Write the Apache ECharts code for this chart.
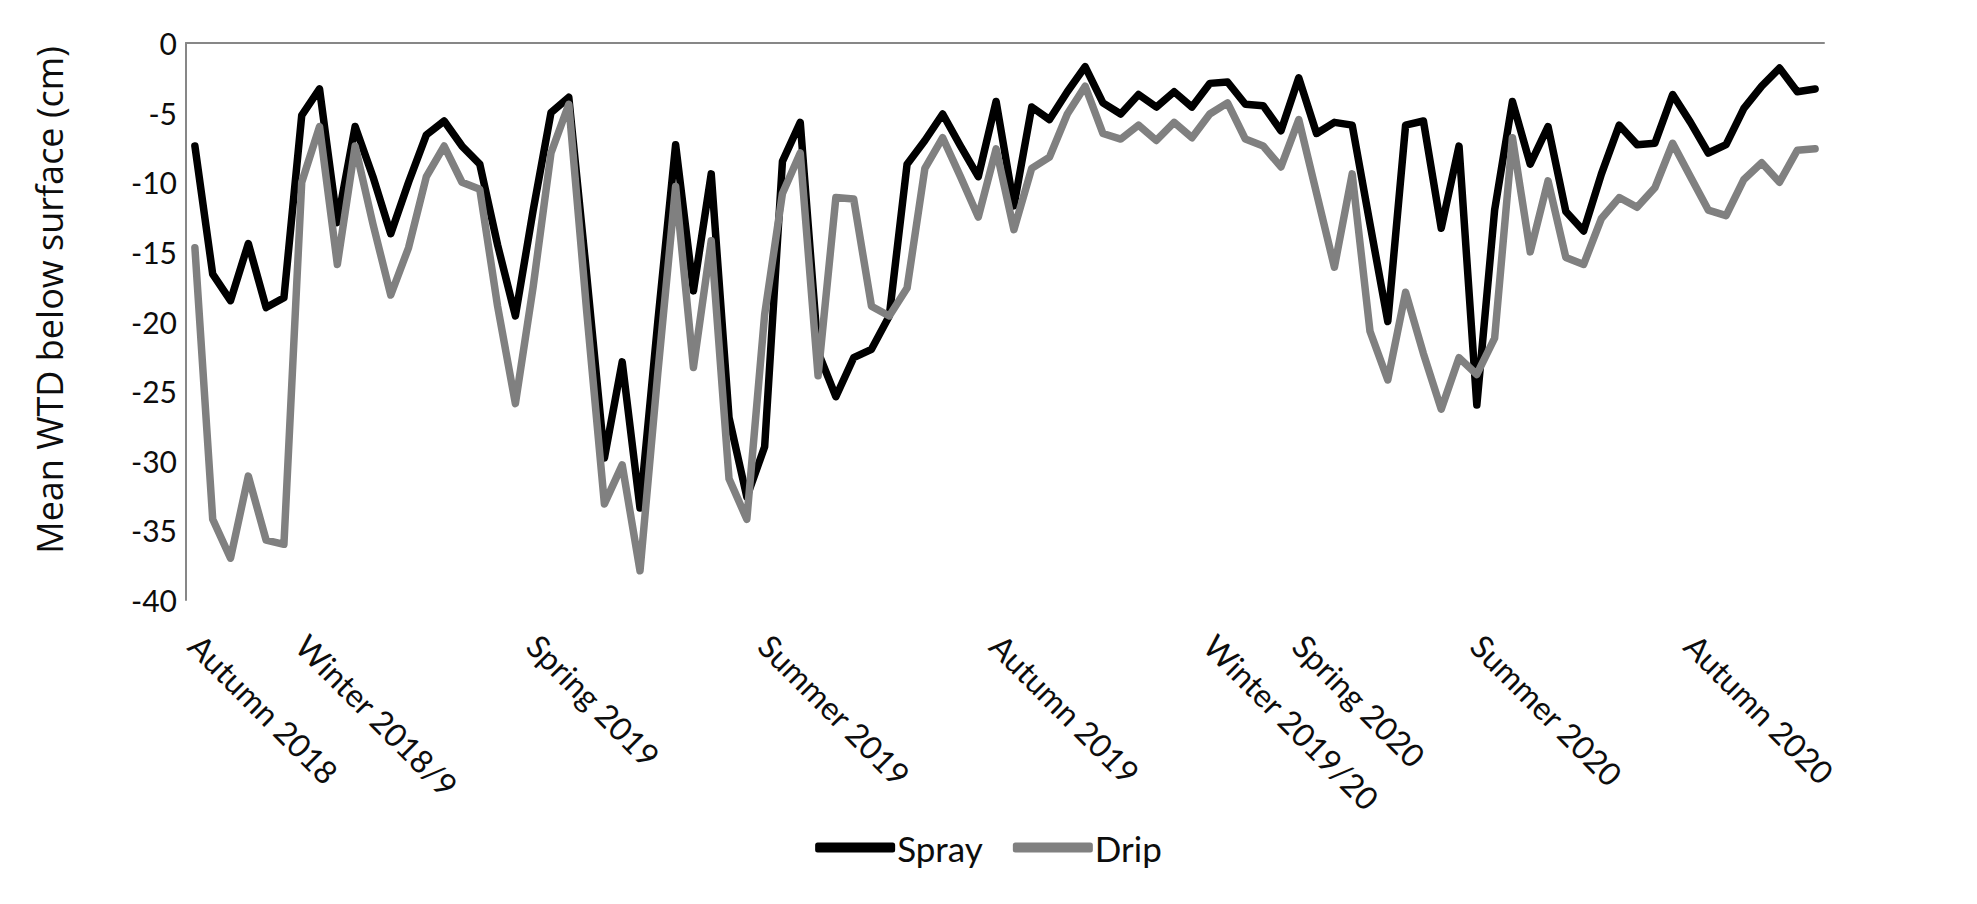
<!DOCTYPE html>
<html>
<head>
<meta charset="utf-8">
<script src="https://cdn.jsdelivr.net/npm/echarts@6/dist/echarts.min.js"></script>
<style>
html,body{margin:0;padding:0;background:#fff;}
#chart{width:1977px;height:904px;}
</style>
</head>
<body>
<div id="chart"></div>
<script>
// Series values (cm below surface), one per sampling date
const spray = [
  -7.4, -16.6, -18.5, -14.4, -19.0, -18.3, -5.2, -3.3, -12.9, -6.0,
  -9.6, -13.7, -10.0, -6.6, -5.6, -7.4, -8.7, -14.5, -19.6, -12.0,
  -5.0, -3.9, -16.6, -29.8, -22.9, -33.4, -20.0, -7.3, -17.8, -9.4,
  -26.9, -32.6, -29.0, -8.5, -5.7, -22.2, -25.4, -22.6, -22.0, -19.6,
  -8.7, -7.0, -5.1, -7.4, -9.6, -4.2, -11.7, -4.6, -5.5, -3.5,
  -1.7, -4.3, -5.1, -3.7, -4.6, -3.5, -4.6, -2.9, -2.8, -4.4,
  -4.5, -6.3, -2.5, -6.5, -5.7, -5.9, -13.0, -20.0, -5.9, -5.6,
  -13.3, -7.4, -26.0, -12.0, -4.2, -8.7, -6.0, -12.1, -13.5, -9.4,
  -5.9, -7.3, -7.2, -3.7, -5.7, -7.9, -7.3, -4.7, -3.1, -1.8,
  -3.5, -3.3
];
const drip = [
  -14.7, -34.2, -37.0, -31.1, -35.7, -36.0, -10.0, -6.0, -15.9, -7.4,
  -13.0, -18.1, -14.7, -9.6, -7.4, -10.0, -10.5, -18.9, -25.9, -17.5,
  -7.9, -4.4, -19.2, -33.1, -30.3, -37.9, -23.7, -10.3, -23.3, -14.2,
  -31.3, -34.2, -19.5, -10.8, -7.9, -23.9, -11.1, -11.2, -18.9, -19.6,
  -17.6, -9.0, -6.8, -9.6, -12.5, -7.6, -13.4, -9.0, -8.2, -5.1,
  -3.1, -6.5, -6.9, -5.9, -7.0, -5.7, -6.8, -5.1, -4.3, -6.9,
  -7.4, -8.9, -5.5, -10.8, -16.1, -9.4, -20.7, -24.2, -17.9, -22.3,
  -26.3, -22.6, -23.8, -21.2, -6.8, -15.0, -9.9, -15.4, -15.9, -12.6,
  -11.1, -11.8, -10.4, -7.2, -9.6, -12.0, -12.4, -9.8, -8.6, -10.0,
  -7.7, -7.6
];
// Season tick labels and the sample index where each is shown
const seasonNames = ['Autumn 2018', 'Winter 2018/9', 'Spring 2019', 'Summer 2019',
  'Autumn 2019', 'Winter 2019/20', 'Spring 2020', 'Summer 2020', 'Autumn 2020'];
const seasonIdx = [0, 6, 19, 32, 45, 57, 62, 72, 84];
// y-axis ticks
const yTicks = [0, -5, -10, -15, -20, -25, -30, -35, -40];

const categories = spray.map((_, i) => String(i));
const labelOf = {};
seasonIdx.forEach((k, j) => { labelOf[k] = seasonNames[j]; });

const chart = echarts.init(document.getElementById('chart'), null, {renderer: 'svg'});
chart.setOption({
  animation: false,
  backgroundColor: '#ffffff',
  grid: {left: 186, right: 153, top: 43, bottom: 304, containLabel: false},
  xAxis: [{
    type: 'category',
    data: categories,
    position: 'bottom',
    boundaryGap: true,
    axisLine: {show: false},
    axisTick: {show: false},
    splitLine: {show: false},
    axisLabel: {
      interval: 0,
      rotate: -45,
      margin: 40,
      fontFamily: 'Lato',
      fontSize: 32,
      color: '#0d0d0d',
      formatter: (v, i) => labelOf[i] || ''
    }
  }, {
    type: 'category',
    data: categories,
    position: 'top',
    axisLine: {show: true, lineStyle: {color: '#878787', width: 2}},
    axisTick: {show: false},
    axisLabel: {show: false},
    splitLine: {show: false}
  }],
  yAxis: {
    type: 'value',
    min: -40, max: 0, interval: 5,
    axisLine: {show: true, lineStyle: {color: '#878787', width: 2}},
    axisTick: {show: false},
    splitLine: {show: false},
    axisLabel: {
      margin: 9,
      fontFamily: 'Lato',
      fontSize: 30,
      color: '#0d0d0d',
      formatter: v => yTicks.includes(v) ? String(v) : ''
    }
  },
  legend: {
    bottom: 34,
    left: 'center',
    itemWidth: 80,
    itemHeight: 10,
    itemGap: 30,
    icon: 'roundRect',
    textStyle: {fontFamily: 'Lato', fontSize: 35, color: '#0d0d0d', padding: [0, 0, 0, -3]},
    data: ['Spray', 'Drip']
  },
  graphic: [{
    type: 'text',
    x: 49, y: 300,
    rotation: Math.PI / 2,
    style: {
      text: 'Mean WTD below surface (cm)',
      font: '36px "Open Sans"',
      fill: '#0d0d0d',
      align: 'center',
      verticalAlign: 'middle'
    }
  }],
  series: [{
    name: 'Spray',
    type: 'line',
    data: spray,
    symbol: 'none',
    showSymbol: false,
    itemStyle: {color: '#000000'},
    lineStyle: {color: '#000000', width: 7.5, join: 'round', cap: 'round'}
  }, {
    name: 'Drip',
    type: 'line',
    data: drip,
    symbol: 'none',
    showSymbol: false,
    itemStyle: {color: '#808080'},
    lineStyle: {color: '#808080', width: 7.5, join: 'round', cap: 'round'}
  }]
});
</script>
</body>
</html>
